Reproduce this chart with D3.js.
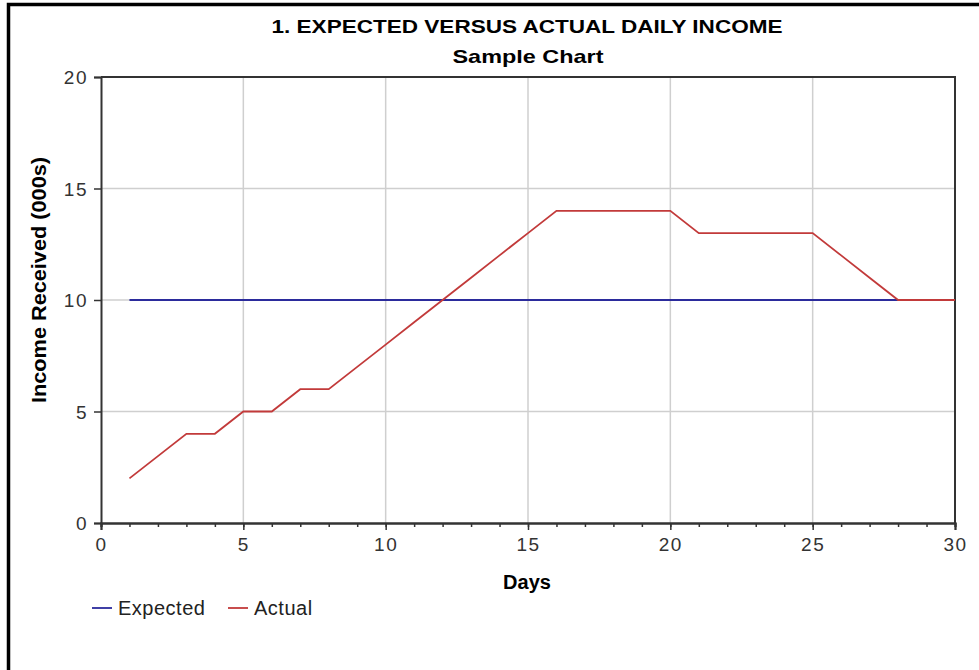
<!DOCTYPE html>
<html>
<head>
<meta charset="utf-8">
<script src="https://cdn.jsdelivr.net/npm/d3@7"></script>
<style>
  body { margin: 0; background: #fff; }
  text { font-family: "Liberation Sans", Arial, sans-serif; }
</style>
</head>
<body>
<svg id="canvas" width="979" height="670"></svg>
<script>
// chart data
const days = d3.range(1, 31)
const expected = [10,10,10,10,10,10,10,10,10,10,10,10,10,10,10,10,10,10,10,10,10,10,10,10,10,10,10,10,10,10]
const actual = [2,3,4,4,5,5,6,6,7,8,9,10,11,12,13,14,14,14,14,14,13,13,13,13,13,12,11,10,10,10]
const xTicks = [0, 5, 10, 15, 20, 25, 30]
const yTicks = [0, 5, 10, 15, 20]
const seriesNames = ["Expected", "Actual"]
const seriesColors = ["#2b2b9c", "#c23a3a"]

const svg = d3.select("#canvas")

//outer frame (only top & left are visible in the picture)
svg.append("path")
    .attr("d", "M8.5,700 L8.5,4.5 L1000,4.5")
    .attr("fill", "none")
    .attr("stroke", "#000")
    .attr("stroke-width", 3.5)

const margin = {top: 77, left: 101, right: 955, bottom: 523}
const x = d3.scaleLinear().domain([0, 30]).range([margin.left, margin.right])
const y = d3.scaleLinear().domain([0, 20]).range([margin.bottom, margin.top])

//titles
svg.append("text")
    .attr("x", 527).attr("y", 33)
    .attr("text-anchor", "middle")
    .attr("font-size", 19).attr("font-weight", "bold")
    .attr("textLength", 511).attr("lengthAdjust", "spacingAndGlyphs")
    .text("1. EXPECTED VERSUS ACTUAL DAILY INCOME")
svg.append("text")
    .attr("x", 528).attr("y", 63)
    .attr("text-anchor", "middle")
    .attr("font-size", 19).attr("font-weight", "bold")
    .attr("textLength", 151).attr("lengthAdjust", "spacingAndGlyphs")
    .text("Sample Chart")

//grid
const grid = svg.append("g").attr("stroke", "#cfcfcf").attr("stroke-width", 1.5)
grid.selectAll(".vgrid")
    .data(xTicks.filter(d => d > 0 && d < 30))
    .enter().append("line")
    .attr("x1", d => x(d)).attr("x2", d => x(d))
    .attr("y1", y(20)).attr("y2", y(0))
grid.selectAll(".hgrid")
    .data(yTicks.filter(d => d > 0 && d < 20))
    .enter().append("line")
    .attr("x1", x(0)).attr("x2", x(30))
    .attr("y1", d => y(d)).attr("y2", d => y(d))

//frame top & right
svg.append("path")
    .attr("d", `M${x(0)},${y(20)} L${x(30)},${y(20)} L${x(30)},${y(0)}`)
    .attr("fill", "none")
    .attr("stroke", "#333")
    .attr("stroke-width", 2)

//axes
const xAxis = svg.append("g")
    .attr("transform", `translate(0,${y(0)})`)
    .call(d3.axisBottom(x).tickValues(days.concat([0])).tickSize(4).tickFormat(""))
const xMajor = svg.append("g")
    .attr("transform", `translate(0,${y(0)})`)
    .call(d3.axisBottom(x).tickValues(xTicks).tickSize(7).tickPadding(8))
const yAxis = svg.append("g")
    .attr("transform", `translate(${x(0)},0)`)
    .call(d3.axisLeft(y).tickValues(yTicks).tickSize(7).tickPadding(6))

svg.selectAll(".domain").attr("stroke", "#333").attr("stroke-width", 2)
svg.selectAll(".tick line").attr("stroke", "#333").attr("stroke-width", 1.5)
svg.selectAll(".tick text")
    .attr("font-size", 19)
    .attr("letter-spacing", 1.5)
    .attr("fill", "#333")
    .attr("font-family", "Liberation Sans, Arial, sans-serif")
yAxis.selectAll(".tick text").attr("dy", "0.36em")

//axis labels
svg.append("text")
    .attr("x", 527).attr("y", 589)
    .attr("text-anchor", "middle")
    .attr("font-size", 20).attr("font-weight", "bold")
    .text("Days")
svg.append("text")
    .attr("transform", "translate(46,280) rotate(-90)")
    .attr("text-anchor", "middle")
    .attr("font-size", 20).attr("font-weight", "bold")
    .attr("textLength", 246).attr("lengthAdjust", "spacingAndGlyphs")
    .text("Income Received (000s)")

//lines
const line = d3.line().x((d, i) => x(days[i])).y(d => y(d))
svg.append("path")
    .datum(expected)
    .attr("d", line)
    .attr("fill", "none")
    .attr("stroke", seriesColors[0])
    .attr("stroke-width", 1.8)
svg.append("path")
    .datum(actual)
    .attr("d", line)
    .attr("fill", "none")
    .attr("stroke", seriesColors[1])
    .attr("stroke-width", 1.8)

//legend
const legendX = [92, 228]
const legend = svg.selectAll(".legend")
    .data(seriesNames)
    .enter().append("g")
    .attr("transform", (d, i) => `translate(${legendX[i]},608)`)
legend.append("line")
    .attr("x1", 0).attr("x2", 20)
    .attr("stroke", (d, i) => seriesColors[i])
    .attr("stroke-width", 1.8)
legend.append("text")
    .attr("x", 26).attr("y", 7)
    .attr("font-size", 20)
    .attr("letter-spacing", 0.5)
    .attr("fill", "#222")
    .text(d => d)
</script>
</body>
</html>
